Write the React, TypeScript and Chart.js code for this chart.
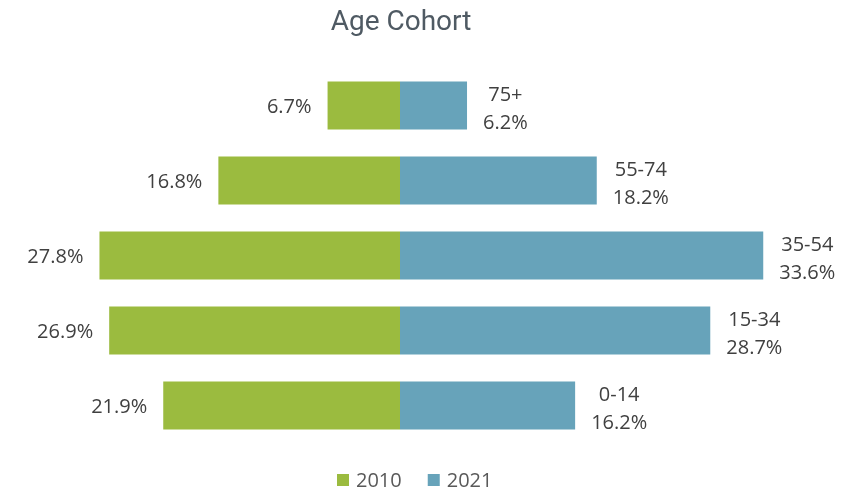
import React, { useEffect, useRef } from "react";
import { Chart, registerables } from "chart.js";

Chart.register(...registerables);

const titleText = "Age Cohort";
const categories = ["75+", "55-74", "35-54", "15-34", "0-14"];
const seriesNames = ["2010", "2021"];
const values2010 = [6.7, 16.8, 27.8, 26.9, 21.9];
const values2021 = [6.2, 18.2, 33.6, 28.7, 16.2];
const colors = ["#9bbb3f", "#67a3ba"];

const LABEL_FONT = "20px 'Open Sans'";
const LABEL_COLOR = "#404040";

const labelPlugin = {
  id: "cohortLabels",
  afterDraw(chart: any) {
    const ctx = chart.ctx as CanvasRenderingContext2D;
    const m0 = chart.getDatasetMeta(0);
    const m1 = chart.getDatasetMeta(1);
    ctx.save();
    ctx.font = LABEL_FONT;
    ctx.fillStyle = LABEL_COLOR;
    ctx.textBaseline = "alphabetic";
    categories.forEach((cat, i) => {
      const g = m0.data[i];
      const b = m1.data[i];
      // left (2010) value
      ctx.textAlign = "right";
      ctx.fillText(values2010[i].toFixed(1) + "%", g.x - 16, g.y + 7.5);
      // right (2021) category + value
      const v = values2021[i].toFixed(1) + "%";
      const w = Math.max(ctx.measureText(cat).width, ctx.measureText(v).width);
      const cx = b.x + 16 + w / 2;
      ctx.textAlign = "center";
      ctx.fillText(cat, cx, b.y - 5);
      ctx.fillText(v, cx, b.y + 23);
    });

    // title
    ctx.font = "28px Roboto";
    ctx.fillStyle = "#4f5a63";
    ctx.textAlign = "center";
    ctx.fillText(titleText, 401, 30);

    // legend
    ctx.font = "20px 'Open Sans'";
    ctx.textAlign = "left";
    let x = 337;
    chart.data.datasets.forEach((ds: any) => {
      ctx.fillStyle = ds.backgroundColor;
      ctx.fillRect(x, 474, 12, 12);
      ctx.fillStyle = "#595959";
      ctx.fillText(ds.label, x + 19, 487);
      x += 19 + ctx.measureText(ds.label).width + 26;
    });
    ctx.restore();
  },
};

export default function App() {
  const ref = useRef<HTMLCanvasElement | null>(null);
  useEffect(() => {
    if (!ref.current) return;
    const chart = new Chart(ref.current, {
      type: "bar",
      data: {
        labels: categories,
        datasets: [
          {
            label: seriesNames[0],
            data: values2010.map((v) => -v),
            backgroundColor: colors[0],
            barPercentage: 0.8,
            categoryPercentage: 0.8,
          },
          {
            label: seriesNames[1],
            data: values2021,
            backgroundColor: colors[1],
            barPercentage: 0.8,
            categoryPercentage: 0.8,
          },
        ],
      },
      options: {
        indexAxis: "y",
        responsive: false,
        animation: false,
        layout: { padding: { top: 68, bottom: 48, left: 0, right: 41 } },
        scales: {
          x: { stacked: true, min: -37, max: 37, display: false },
          y: { stacked: true, display: false },
        },
        plugins: {
          legend: { display: false },
          title: { display: false },
          tooltip: { enabled: false },
        },
      },
      plugins: [labelPlugin],
    });
    return () => chart.destroy();
  }, []);
  return (
    <div style={{ position: "absolute", left: 0, top: 0, width: 841, height: 491, background: "#fff" }}>
      <canvas ref={ref} width={841} height={491} style={{ display: "block" }} />
    </div>
  );
}
